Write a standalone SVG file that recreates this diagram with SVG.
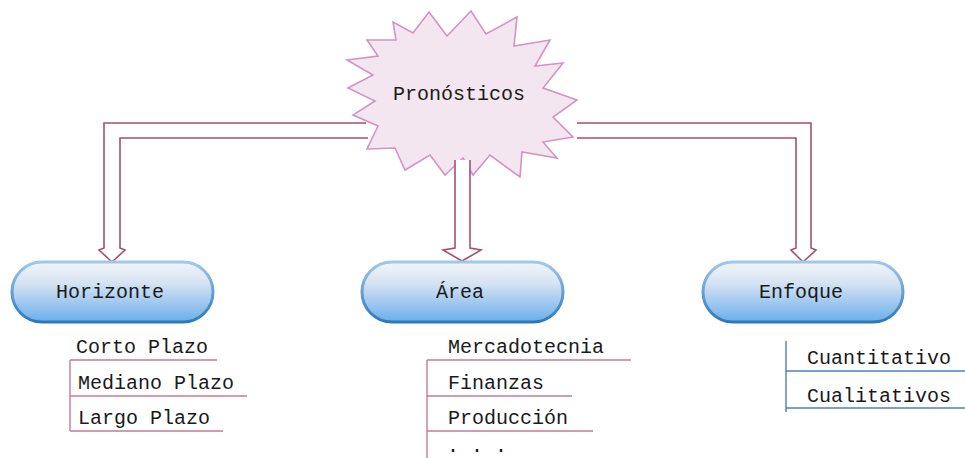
<svg xmlns="http://www.w3.org/2000/svg" width="965" height="458" viewBox="0 0 965 458">
  <defs>
    <linearGradient id="pillFill" x1="0" y1="0" x2="0" y2="1">
      <stop offset="0" stop-color="#f3f5f9"/>
      <stop offset="0.35" stop-color="#d6e3f3"/>
      <stop offset="1" stop-color="#6aaeea"/>
    </linearGradient>
    <linearGradient id="pillStroke" x1="0" y1="0" x2="0" y2="1">
      <stop offset="0" stop-color="#9fc8ef"/>
      <stop offset="1" stop-color="#2b79ba"/>
    </linearGradient>
    <style>
      .lbl { font-family: "Liberation Mono", "Courier New", monospace; font-size: 20px; fill: #1a1a1a; }
      .mid { text-anchor: middle; }
      .pill { fill: url(#pillFill); stroke: url(#pillStroke); stroke-width: 3; }
      .arrow { fill: #ffffff; stroke: #a4506f; stroke-width: 1.6; stroke-linejoin: miter; }
      .rose { stroke: #c27b98; stroke-width: 1.4; fill: none; }
      .blue { stroke: #4f81bd; stroke-width: 1.4; fill: none; }
    </style>
  </defs>

  <!-- central starburst -->
  <g id="pronosticos">
    <polygon fill="#f4e6f0" stroke="#d394c3" stroke-width="1.6" points="429,12 447,36 471,11 486,34 517,17 514,46 550,40 535,66 563,63 543,88 577,100 553,117 573,137 543,142 557,158 522,152 520,177 490,155 473,175 463,158 445,175 430,155 405,170 395,148 367,149 378,126 353,115 375,101 348,88 373,75 347,60 378,56 367,40 396,40 393,22 413,33"/>
    <text class="lbl mid" x="459" y="100">Pronósticos</text>
  </g>

  <!-- hollow double-line arrows from the starburst -->
  <g id="connectors">
    <path class="arrow" d="M366,123 L104,123 L104,248 L99,250 L112,262 L125,250 L120,248 L120,138 L368,138"/>
    <path class="arrow" d="M455,160 L455,248 L443,250 L462,261 L481,250 L470,248 L470,160"/>
    <path class="arrow" d="M577,123 L811,123 L811,248 L816,250 L803,262 L791,250 L796,248 L796,138 L577,138"/>
  </g>

  <g id="horizonte">
    <rect class="pill" x="12" y="262" width="201" height="60" rx="30" ry="30"/>
    <text class="lbl mid" x="110" y="298">Horizonte</text>
  </g>

  <g id="area">
    <rect class="pill" x="362" y="262" width="201" height="60" rx="30" ry="30"/>
    <text class="lbl mid" x="460" y="298">Área</text>
  </g>

  <g id="enfoque">
    <rect class="pill" x="703" y="262" width="200" height="60" rx="30" ry="30"/>
    <text class="lbl mid" x="801" y="298">Enfoque</text>
  </g>

  <!-- Horizonte list -->
  <g id="horizonte-list">
    <path class="rose" d="M70,360 H217 M70,360 V431 M70,396 H247 M70,431 H223"/>
    <text class="lbl" x="76" y="353">Corto Plazo</text>
    <text class="lbl" x="78" y="389">Mediano Plazo</text>
    <text class="lbl" x="78" y="424">Largo Plazo</text>
  </g>

  <!-- Área list -->
  <g id="area-list">
    <path class="rose" d="M427,360 H631 M427,360 V458 M427,396 H572 M427,431 H593"/>
    <text class="lbl" x="448" y="353">Mercadotecnia</text>
    <text class="lbl" x="448" y="389">Finanzas</text>
    <text class="lbl" x="448" y="424">Producción</text>
    <text class="lbl" x="447" y="452">. . .</text>
  </g>

  <!-- Enfoque list -->
  <g id="enfoque-list">
    <path class="blue" d="M786,341 V412 M786,371 H965 M786,408 H965"/>
    <text class="lbl" x="807" y="364">Cuantitativo</text>
    <text class="lbl" x="807" y="402">Cualitativos</text>
  </g>
</svg>
